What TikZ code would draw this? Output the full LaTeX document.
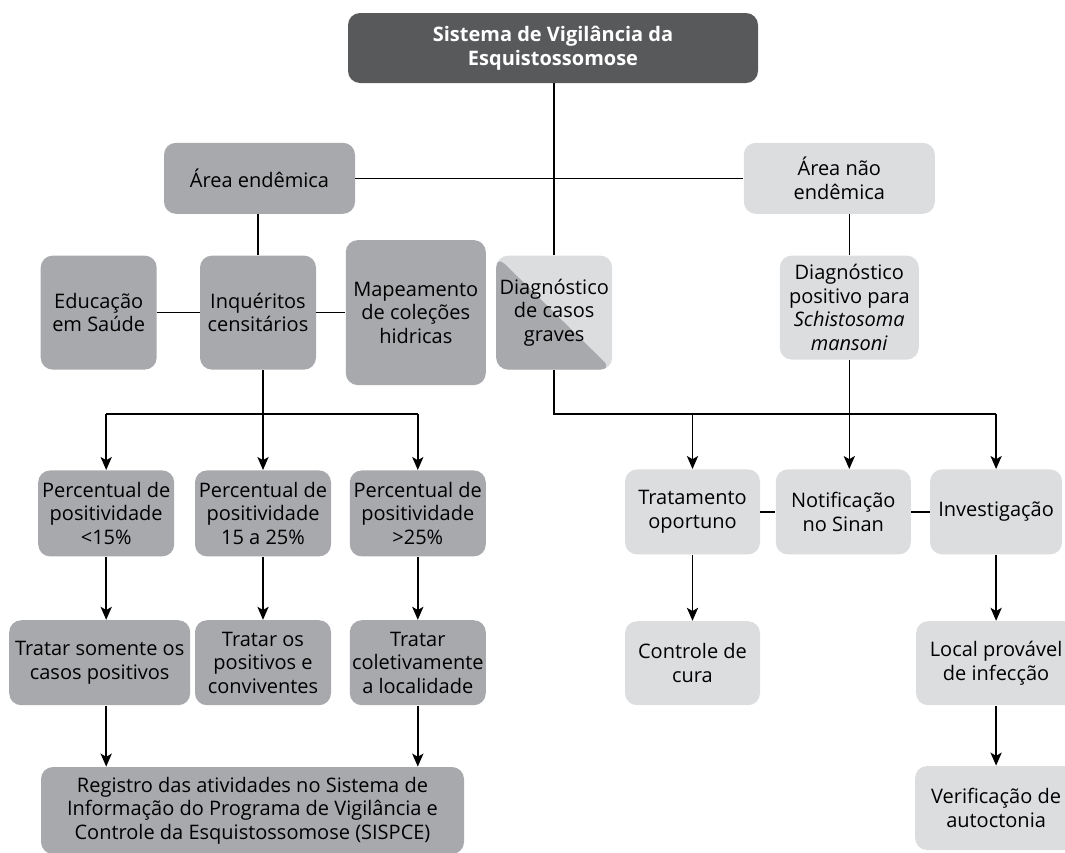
\documentclass[tikz,border=0pt]{standalone}
\usepackage{fontspec}
\setmainfont{Open Sans}
\usepackage{tikz}
\usetikzlibrary{positioning,arrows.meta,calc}
\definecolor{darkgrey}{HTML}{58595B}
\definecolor{midgrey}{HTML}{A7A9AC}
\definecolor{lightgrey}{HTML}{DCDDDE}
\tikzset{
  box/.style={rectangle, rounded corners=6pt, fill=#1, align=center,
              inner sep=1pt, font=\fontsize{10}{11.8}\selectfont},
  split/.style={box=lightgrey, path picture={
      \fill[midgrey] (path picture bounding box.north west)
        -- (path picture bounding box.south east)
        -- (path picture bounding box.south west) -- cycle;}},
  ln/.style={line width=0.8pt, draw=black},
  ar/.style={-{Stealth[length=6.5pt,width=5.6pt,inset=1.6pt]}, line width=0.8pt, draw=black},
}
\begin{document}
\begin{tikzpicture}
  \useasboundingbox (0,0) rectangle (532.5pt,-426pt);
  \node[box=darkgrey, text=white, font=\fontsize{10}{12}\selectfont\bfseries,
        minimum width=205pt, minimum height=35pt] (top) at (276.5pt,-24pt) {Sistema de Vigilância da\\Esquistossomose};

  \node[box=midgrey, below=29.5pt of top, xshift=-146.75pt, minimum width=95.5pt, minimum height=35.5pt] (endem) {Área endêmica};
  \node[box=lightgrey, right=194pt of endem, minimum width=95.5pt, minimum height=35.5pt] (nendem) {Área não\\endêmica};

  \node[box=midgrey, below=20.5pt of endem, xshift=-0.75pt, minimum width=58pt, minimum height=57pt] (inq) {Inquéritos\\censitários};
  \node[box=midgrey, left=21.25pt of inq, minimum width=58pt, minimum height=57pt] (educ) {Educação\\em Saúde};
  \node[box=midgrey, right=14.5pt of inq, minimum width=70pt, minimum height=72.5pt] (mapa) {Mapeamento\\de coleções\\hidricas};
  \node[split, right=4.8pt of mapa, minimum width=58pt, minimum height=57pt] (grav) {Diagnóstico\\de casos\\graves};
  \node[box=lightgrey, below=20.5pt of nendem, xshift=5pt, minimum width=69.5pt, minimum height=52pt] (diagpos) {Diagnóstico\\positivo para\\\textit{Schistosoma}\\\textit{mansoni}};

  \node[box=midgrey, below=50pt of inq, xshift=2.5pt, minimum width=68pt, minimum height=43pt] (pct2) {Percentual de\\positividade\\15 a 25\%};
  \node[box=midgrey, left=10pt of pct2, minimum width=68pt, minimum height=43pt] (pct1) {Percentual de\\positividade\\<15\%};
  \node[box=midgrey, right=9pt of pct2, minimum width=68pt, minimum height=43pt] (pct3) {Percentual de\\positividade\\>25\%};

  \node[box=midgrey, below=31.5pt of pct2, minimum width=68pt, minimum height=42.5pt] (tr2) {Tratar os\\positivos e\\conviventes};
  \node[box=midgrey, left=2pt of tr2, minimum width=90.5pt, minimum height=42.5pt] (tr1) {Tratar somente os\\casos positivos};
  \node[box=midgrey, right=9pt of tr2, minimum width=68pt, minimum height=42.5pt] (tr3) {Tratar\\coletivamente\\a localidade};
  \node[box=midgrey, below=30.5pt of tr2, xshift=-5.25pt, minimum width=211.5pt, minimum height=43.5pt] (reg) {Registro das atividades no Sistema de\\Informação do Programa de Vigilância e\\Controle da Esquistossomose (SISPCE)};

  \node[box=lightgrey, below=54.5pt of diagpos, xshift=-3pt, minimum width=67.5pt, minimum height=42.5pt] (notif) {Notificação\\no Sinan};
  \node[box=lightgrey, left=7.5pt of notif, minimum width=67.5pt, minimum height=42.5pt] (trat) {Tratamento\\oportuno};
  \node[box=lightgrey, right=9.25pt of notif, minimum width=66pt, minimum height=42.5pt] (invest) {Investigação};
  \node[box=lightgrey, below=33pt of trat, minimum width=67.5pt, minimum height=42pt] (cura) {Controle de\\cura};
  \node[box=lightgrey, below=33pt of invest, minimum width=80pt, minimum height=42pt] (local) {Local provável\\de infecção};
  \node[box=lightgrey, below=30pt of local, minimum width=81pt, minimum height=42pt] (autoc) {Verificação de\\autoctonia};

  % ligacoes superiores
  \draw[ln] (top.south -| grav) -- (grav);
  \draw[ln] (endem) -- (nendem);
  \draw[ln] (endem.south -| inq) -- (inq);
  \draw[ln] (nendem.south -| diagpos) -- (diagpos);
  \draw[ln] (educ) -- (inq) -- (mapa);

  % area endemica
  \coordinate (busL) at ($(inq.south)+(0,-22pt)$);
  \draw[ar] (inq.south -| pct2) -- (pct2);
  \draw[ln] (busL -| pct1) -- (busL -| pct3);
  \foreach \n in {pct1,pct3} \draw[ar] (busL -| \n) -- (\n);
  \draw[ar] (pct1) -- (pct1 |- tr1.north);
  \draw[ar] (pct2) -- (tr2);
  \draw[ar] (pct3) -- (tr3);
  \draw[ar] (tr1.south -| pct1) -- (reg.north -| pct1);
  \draw[ar] (tr3) -- (tr3 |- reg.north);

  % area nao endemica
  \coordinate (busR) at ($(grav.south)+(0,-22pt)$);
  \draw[ln] (grav) -- (busR) -- (busR -| invest);
  \foreach \n in {trat,invest} \draw[ar] (busR -| \n) -- (\n);
  \draw[ar] (diagpos) -- (diagpos |- notif.north);
  \draw[ln] (trat) -- (notif) -- (invest);
  \draw[ar] (trat) -- (cura);
  \draw[ar] (invest) -- (local);
  \draw[ar] (local) -- (autoc);
\end{tikzpicture}
\end{document}
